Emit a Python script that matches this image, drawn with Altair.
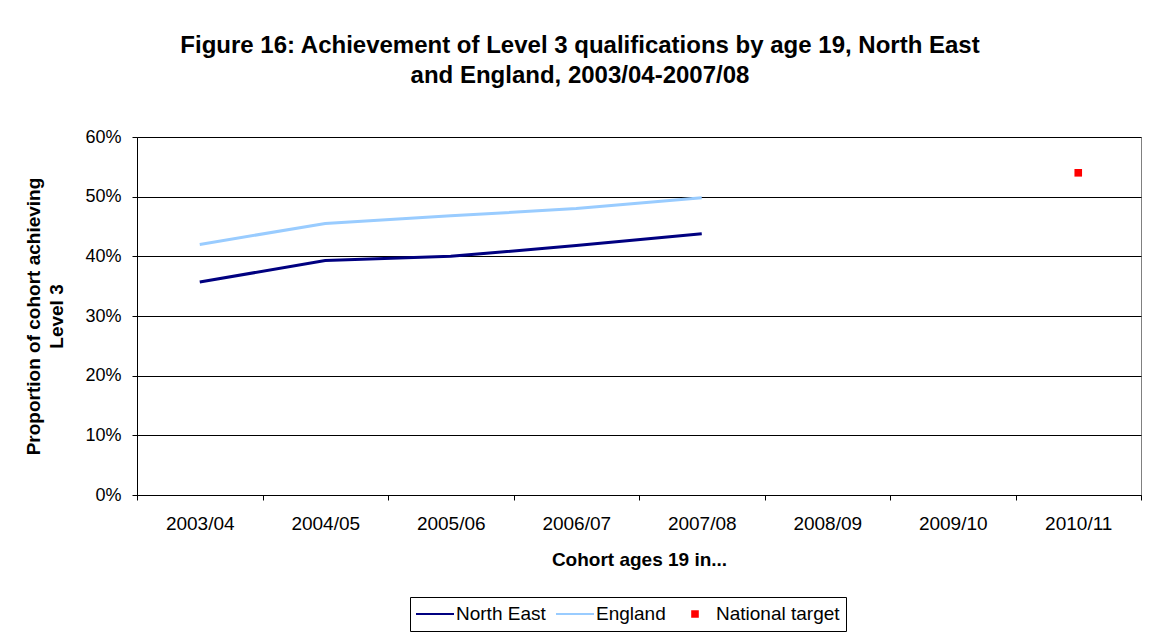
import altair as alt
import pandas as pd

categories = ["2003/04", "2004/05", "2005/06", "2006/07", "2007/08", "2008/09", "2009/10", "2010/11"]
observed_years = ["2003/04", "2004/05", "2005/06", "2006/07", "2007/08"]
north_east = [0.357, 0.393, 0.400, 0.418, 0.438]
england = [0.420, 0.455, 0.468, 0.480, 0.498]
target_year = ["2010/11"]
target_value = [0.54]

series_names = ["North East", "England", "National target"]
series_colors = ["#000080", "#99CCFF", "#FF0000"]
# legend/point symbol shapes (unit paths): a short line for the two series, a small square for the target
series_shapes = [
    "M-1,-0.05L1,-0.05L1,0.05L-1,0.05Z",
    "M-1,-0.05L1,-0.05L1,0.05L-1,0.05Z",
    "M-0.2,-0.2L0.2,-0.2L0.2,0.2L-0.2,0.2Z",
]

lines_df = pd.DataFrame(
    {
        "year": observed_years + observed_years,
        "value": north_east + england,
        "series": ["North East"] * len(north_east) + ["England"] * len(england),
    }
)
target_df = pd.DataFrame({"year": target_year, "value": target_value, "series": ["National target"]})

FONT = "Liberation Sans"

x_enc = alt.X(
    "year:N",
    sort=categories,
    scale=alt.Scale(domain=categories, paddingInner=0, paddingOuter=0),
    axis=alt.Axis(
        title="Cohort ages 19 in...",
        labelAngle=0,
        labelFontSize=19,
        labelColor="black",
        labelPadding=14,
        tickBand="extent",
        tickSize=5,
        tickColor="black",
        domainColor="black",
        grid=False,
        titleFontSize=19,
        titleFontWeight="bold",
        titleColor="black",
        titlePadding=17,
    ),
)
y_enc = alt.Y(
    "value:Q",
    scale=alt.Scale(domain=[0, 0.6], nice=False),
    axis=alt.Axis(
        title=["Proportion of cohort achieving", "Level 3"],
        format=".0%",
        values=[0, 0.1, 0.2, 0.3, 0.4, 0.5, 0.6],
        labelFontSize=18,
        labelColor="black",
        labelPadding=11,
        tickSize=5,
        tickColor="black",
        domainColor="black",
        grid=True,
        gridColor="black",
        gridWidth=1,
        titleFontSize=19,
        titleFontWeight="bold",
        titleColor="black",
        titlePadding=18,
        titleLineHeight=23,
    ),
)

color_scale = alt.Scale(domain=series_names, range=series_colors)
shape_scale = alt.Scale(domain=series_names, range=series_shapes)

legend = alt.Legend(
    title=None,
    orient="none",
    legendX=273,
    legendY=460,
    direction="horizontal",
    strokeColor="black",
    padding=6,
    labelFontSize=19,
    labelColor="black",
    symbolSize=1444,
    symbolStrokeWidth=0,
    clipHeight=22,
    columnPadding=10,
    labelOffset=2,
    cornerRadius=0,
)

lines = (
    alt.Chart(lines_df)
    .mark_line(strokeWidth=3)
    .encode(
        x=x_enc,
        y=y_enc,
        color=alt.Color("series:N", scale=color_scale, legend=legend),
        detail="series:N",
    )
)

points = (
    alt.Chart(target_df)
    .mark_point(filled=True, size=1444, opacity=1)
    .encode(
        x=x_enc,
        y=y_enc,
        color=alt.Color("series:N", scale=color_scale, legend=legend),
        shape=alt.Shape("series:N", scale=shape_scale, legend=legend),
    )
)

chart = (
    alt.layer(lines, points)
    .properties(
        width=1004,
        height=358,
        autosize=alt.AutoSizeParams(type="none"),
        padding={"left": 129, "top": 129, "right": 7, "bottom": 140},
        title=alt.TitleParams(
            text=[
                "Figure 16: Achievement of Level 3 qualifications by age 19, North East",
                "and England, 2003/04-2007/08",
            ],
            fontSize=24,
            fontWeight="bold",
            color="black",
            anchor="middle",
            dx=-59,
            offset=40,
            lineHeight=30,
        ),
    )
    .configure(font=FONT, background="white")
    .configure_view(stroke="#808080", strokeWidth=1)
)

chart.save("out.html", embed_options={"renderer": "svg", "actions": False})
